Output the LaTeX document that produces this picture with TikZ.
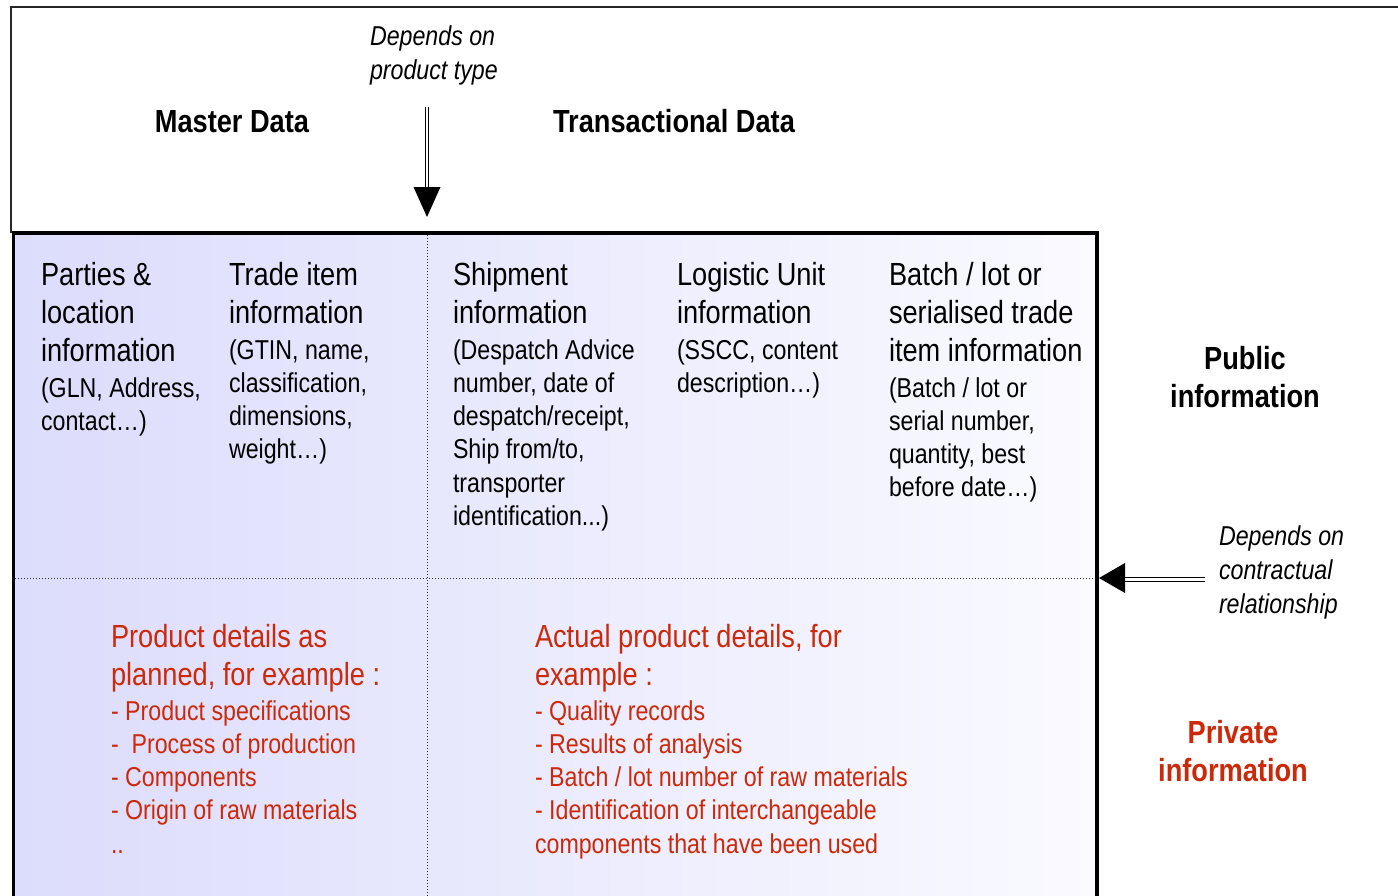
\documentclass[tikz,border=0pt]{standalone}
\usepackage{fontspec}
\setmainfont{Liberation Sans}[FakeStretch=0.85]
\definecolor{redtxt}{RGB}{204,40,10}
\definecolor{lblue}{RGB}{220,220,252}
\definecolor{rblue}{RGB}{250,250,255}
\newcommand\ml[1]{\vtop{\let\\\cr\halign{##\hfil\cr#1\crcr}}}
\newcommand\mc[1]{\vtop{\let\\\cr\halign{\hfil##\hfil\cr#1\crcr}}}
\begin{document}
\begin{tikzpicture}[x=0.5pt,y=-0.5pt,
  txt/.style={anchor=base west, inner sep=0pt, outer sep=0pt},
  head/.style={txt, font=\fontsize{16}{19}\selectfont},
  subt/.style={txt, font=\fontsize{13.65}{16.65}\selectfont},
  note/.style={txt, font=\fontsize{13.65}{17}\selectfont\itshape},
  title/.style={anchor=base, inner sep=0pt, font=\fontsize{16}{19}\selectfont\bfseries},
  redt/.style={text=redtxt},
  sep/.style={densely dotted, line width=0.5pt, black!80},
  frame/.style={line width=1.6pt, black}]
\useasboundingbox (0,0) rectangle (1398,895);
% background shading of the table
\shade[left color=lblue, right color=rblue] (13,233) rectangle (1097,900);
% separators
\draw[sep] (15,578) -- (1096,578);
\draw[sep] (427,235) -- (427,900);
% outer thin frame
\draw[line width=0.8pt, black!85] (11,233) -- (11,7) -- (1402,7);
% table frame
\draw[frame] (13.5,900) -- (13.5,233) -- (1097,233) -- (1097,900);

% titles
\node[title] (master) at (232,132) {Master Data};
\node[title] (trans) at (674,132) {Transactional Data};
\node[note] (dep1) at (370,45) {\ml{Depends on\\product type}};
\node[note] (dep2) at (1219,545) {\ml{Depends on\\contractual\\relationship}};

% public area
\node[head] (p1h) at (41,285) {\ml{Parties \&\\location\\information}};
\node[subt] (p1s) at (41,397) {\ml{(GLN, Address,\\contact\ldots)}};
\node[head] (p2h) at (229,285) {\ml{Trade item\\information}};
\node[subt] (p2s) at (229,359) {\ml{(GTIN, name,\\classification,\\dimensions,\\weight\ldots)}};
\node[head] (p3h) at (453,285) {\ml{Shipment\\information}};
\node[subt] (p3s) at (453,359) {\ml{(Despatch Advice\\number, date of\\despatch/receipt,\\Ship from/to,\\transporter\\identification...)}};
\node[head] (p4h) at (677,285) {\ml{Logistic Unit\\information}};
\node[subt] (p4s) at (677,359) {\ml{(SSCC, content\\description\ldots)}};
\node[head] (p5h) at (889,285) {\ml{Batch / lot or\\serialised trade\\item information}};
\node[subt] (p5s) at (889,397) {\ml{(Batch / lot or\\serial number,\\quantity, best\\before date\ldots)}};
\node[title] (pub) at (1245,369) {\mc{Public\\information}};

% private area
\node[head, redt] (r1h) at (111,647) {\ml{Product details as\\planned, for example :}};
\node[subt, redt] (r1s) at (111,720) {\ml{- Product specifications\\-\ \ Process of production\\- Components\\- Origin of raw materials\\..}};
\node[head, redt] (r2h) at (535,647) {\ml{Actual product details, for\\example :}};
\node[subt, redt] (r2s) at (535,720) {\ml{- Quality records\\- Results of analysis\\- Batch / lot number of raw materials\\- Identification of interchangeable\\components that have been used}};
\node[title, text=redtxt] (priv) at (1233,743) {\mc{Private\\information}};

% arrows
\coordinate (a1s) at (427,107);
\coordinate (a1e) at (427,190);
\coordinate (a1t) at (427,217);
\draw[double, double distance=1.3pt, line width=0.5pt] (a1s) -- (a1e);
\fill (a1t) -- (413.5,187) -- (440.5,187) -- cycle;
\coordinate (a2s) at (1205,579.5);
\coordinate (a2e) at (1122,579.5);
\coordinate (a2t) at (1099,578);
\draw[double, double distance=1.6pt, line width=0.55pt] (a2s) -- (a2e);
\fill (a2t) -- (1125,563) -- (1125,593) -- cycle;
\end{tikzpicture}
\end{document}
